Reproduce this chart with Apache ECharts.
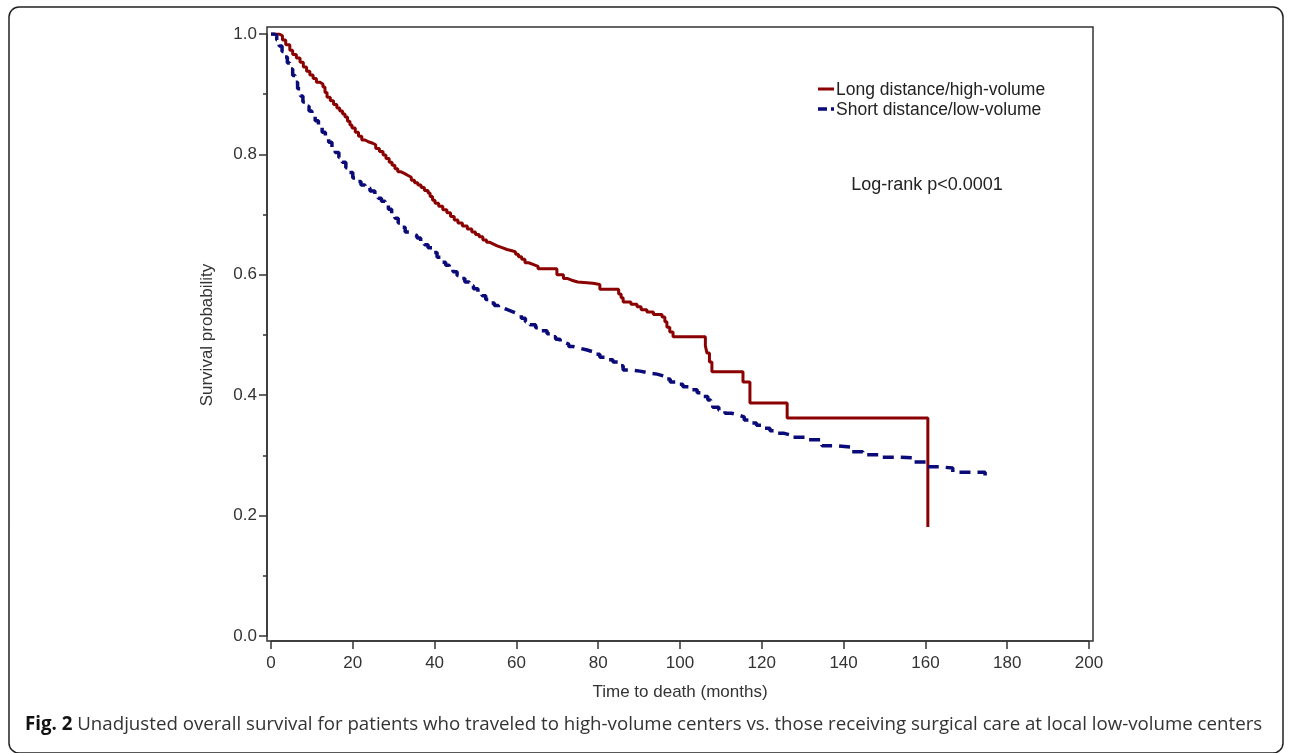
<!DOCTYPE html>
<html>
<head>
<meta charset="utf-8">
<script src="https://cdn.jsdelivr.net/npm/echarts@6/dist/echarts.min.js"></script>
<style>
html,body{margin:0;padding:0;background:#fff;}
#chart{width:1290px;height:753px;}
</style>
</head>
<body>
<div id="chart"></div>
<script>
// Series names
const seriesNames = ['Long distance/high-volume', 'Short distance/low-volume'];

// Long distance/high-volume: event times (months) and survival probability
const longTimes = [0, 2.0, 2.8, 3.6, 4.6, 5.3, 6.2, 7.1, 7.9, 8.7, 9.5, 10.3, 11.1, 11.9, 12.7, 13.2, 13.7, 14.5, 15.3, 16.1, 16.8, 17.5, 18.1, 18.7, 19.3, 19.8, 20.6, 21.4, 22.2, 23.0, 23.8, 24.7, 25.6, 26.5, 27.4, 28.1, 28.9, 29.6, 30.3, 31.0, 31.8, 32.7, 33.5, 34.3, 35.1, 35.9, 36.7, 37.5, 38.4, 38.9, 39.5, 40.1, 41.0, 42.0, 43.0, 43.9, 44.8, 45.7, 46.8, 48.0, 49.1, 50.0, 50.9, 51.8, 52.7, 53.5, 54.4, 55.3, 56.5, 57.7, 58.9, 59.8, 60.5, 61.3, 62.1, 63.0, 64.2, 65.3, 69.9, 71.5, 72.4, 73.5, 75.0, 78.7, 80.4, 85.0, 85.6, 86.1, 88.0, 89.5, 90.5, 91.9, 93.5, 95.6, 96.3, 96.8, 97.5, 98.3, 106.2, 106.6, 107.2, 107.8, 115.4, 117.1, 126.2, 160.6];
const longSurv = [1.0, 0.997, 0.990, 0.982, 0.973, 0.966, 0.960, 0.953, 0.945, 0.938, 0.932, 0.926, 0.920, 0.917, 0.912, 0.903, 0.895, 0.889, 0.883, 0.877, 0.872, 0.867, 0.862, 0.855, 0.849, 0.844, 0.837, 0.830, 0.824, 0.821, 0.819, 0.816, 0.810, 0.805, 0.799, 0.793, 0.787, 0.782, 0.776, 0.771, 0.768, 0.765, 0.762, 0.757, 0.753, 0.749, 0.745, 0.740, 0.736, 0.730, 0.724, 0.719, 0.714, 0.708, 0.703, 0.697, 0.691, 0.686, 0.681, 0.676, 0.671, 0.667, 0.663, 0.658, 0.654, 0.651, 0.648, 0.645, 0.642, 0.640, 0.638, 0.634, 0.630, 0.626, 0.620, 0.617, 0.614, 0.610, 0.600, 0.594, 0.591, 0.588, 0.586, 0.584, 0.576, 0.568, 0.562, 0.555, 0.551, 0.547, 0.542, 0.538, 0.534, 0.530, 0.522, 0.513, 0.505, 0.497, 0.482, 0.470, 0.455, 0.439, 0.422, 0.387, 0.362, 0.181];

// Short distance/low-volume
const shortTimes = [0, 0.8, 1.4, 2.0, 2.7, 3.4, 4.0, 4.6, 5.3, 5.9, 6.5, 7.2, 7.8, 8.5, 9.3, 10.0, 10.8, 11.6, 12.5, 13.3, 14.1, 14.9, 15.7, 16.6, 17.4, 18.3, 19.1, 20.0, 21.0, 22.0, 23.0, 24.2, 25.4, 26.2, 27.0, 27.9, 28.7, 29.5, 30.3, 31.1, 32.0, 32.8, 33.8, 34.7, 35.7, 36.6, 37.5, 38.4, 39.5, 40.6, 41.8, 42.7, 43.6, 44.5, 45.5, 46.4, 47.4, 48.5, 49.5, 50.6, 51.6, 52.5, 53.5, 54.6, 55.6, 56.7, 57.8, 59.0, 60.1, 61.2, 62.2, 63.3, 64.7, 66.0, 67.5, 68.5, 69.6, 70.7, 71.7, 72.8, 73.8, 75.5, 77.3, 78.8, 80.4, 82.0, 83.6, 84.8, 86.1, 88.0, 90.2, 92.3, 94.4, 96.0, 97.6, 99.2, 100.7, 102.5, 104.2, 105.5, 106.8, 107.5, 108.0, 109.5, 111.0, 112.6, 114.2, 115.7, 117.1, 118.7, 120.3, 122.0, 123.7, 125.3, 126.9, 131.0, 134.7, 138.4, 141.6, 144.7, 148.9, 153.8, 157.0, 160.4, 163.6, 166.7, 174.6];
const shortSurv = [1.0, 0.998, 0.990, 0.980, 0.971, 0.962, 0.952, 0.942, 0.931, 0.920, 0.909, 0.897, 0.887, 0.880, 0.872, 0.865, 0.856, 0.846, 0.837, 0.828, 0.820, 0.811, 0.803, 0.795, 0.787, 0.778, 0.770, 0.761, 0.755, 0.749, 0.744, 0.739, 0.733, 0.727, 0.722, 0.716, 0.709, 0.701, 0.694, 0.686, 0.679, 0.671, 0.668, 0.665, 0.661, 0.656, 0.650, 0.645, 0.637, 0.629, 0.621, 0.616, 0.610, 0.605, 0.599, 0.594, 0.588, 0.582, 0.577, 0.571, 0.565, 0.559, 0.553, 0.549, 0.545, 0.542, 0.539, 0.536, 0.533, 0.528, 0.522, 0.517, 0.512, 0.507, 0.502, 0.497, 0.493, 0.488, 0.485, 0.481, 0.478, 0.475, 0.472, 0.468, 0.463, 0.459, 0.455, 0.449, 0.442, 0.440, 0.437, 0.435, 0.432, 0.427, 0.422, 0.418, 0.414, 0.409, 0.404, 0.398, 0.392, 0.386, 0.380, 0.375, 0.370, 0.367, 0.364, 0.359, 0.354, 0.350, 0.345, 0.341, 0.337, 0.334, 0.330, 0.326, 0.316, 0.314, 0.306, 0.301, 0.297, 0.296, 0.289, 0.281, 0.279, 0.272, 0.264];

const xAxisTitle = 'Time to death (months)';
const yAxisTitle = 'Survival probability';
const annotation = 'Log-rank p<0.0001';
const captionBold = 'Fig. 2';
const captionText = ' Unadjusted overall survival for patients who traveled to high-volume centers vs. those receiving surgical care at local low-volume centers';

const zip = (t, s) => t.map((x, i) => [x, s[i]]);
const font = '"Liberation Sans", Arial, sans-serif';
const RED = '#8b0000';
const BLUE = '#0a0a78';

const chart = echarts.init(document.getElementById('chart'), null, {renderer: 'canvas'});
chart.setOption({
  animation: false,
  backgroundColor: '#fff',
  grid: {left: 271, right: 201, top: 34, bottom: 117, containLabel: false},
  xAxis: {
    type: 'value', min: 0, max: 200, interval: 20, offset: 5,
    name: xAxisTitle, nameLocation: 'middle', nameGap: 43,
    nameTextStyle: {fontFamily: font, fontSize: 17, color: '#333'},
    axisLine: {show: true, onZero: false, lineStyle: {color: '#333', width: 1.5}},
    axisTick: {show: true, length: 8, lineStyle: {color: '#333', width: 1.5}},
    axisLabel: {fontFamily: font, fontSize: 17, color: '#333', margin: 14},
    splitLine: {show: false}
  },
  yAxis: {
    type: 'value', min: 0, max: 1, interval: 0.2, offset: 4,
    name: yAxisTitle, nameLocation: 'middle', nameGap: 51, nameRotate: 90,
    nameTextStyle: {fontFamily: font, fontSize: 17, color: '#333'},
    axisLine: {show: true, onZero: false, lineStyle: {color: '#333', width: 1.5}},
    axisTick: {show: true, length: 8, lineStyle: {color: '#333', width: 1.5}},
    minorTick: {show: true, splitNumber: 2, length: 4, lineStyle: {color: '#333', width: 1.5}},
    axisLabel: {fontFamily: font, fontSize: 17, color: '#333', margin: 10,
      formatter: v => v.toFixed(1)},
    splitLine: {show: false}
  },
  series: [
    {
      name: seriesNames[0], type: 'line', step: 'end', showSymbol: false, symbol: 'none',
      data: zip(longTimes, longSurv),
      lineStyle: {color: RED, width: 3},
      itemStyle: {color: RED}, z: 2
    },
    {
      name: seriesNames[1], type: 'line', step: 'end', showSymbol: false, symbol: 'none',
      data: zip(shortTimes, shortSurv),
      lineStyle: {color: BLUE, width: 3.5, type: [11, 7]},
      itemStyle: {color: BLUE}, z: 3
    }
  ],
  graphic: [
    {type: 'rect', shape: {x: 9, y: 7, width: 1274, height: 746, r: 10}, silent: true,
      style: {fill: null, stroke: '#222', lineWidth: 1.5}, z: -1},
    {type: 'rect', shape: {x: 267, y: 27, width: 826, height: 614}, silent: true,
      style: {fill: null, stroke: '#333', lineWidth: 1.5}, z: 1},
    // legend
    {type: 'line', shape: {x1: 818, y1: 89, x2: 834, y2: 89}, silent: true,
      style: {stroke: RED, lineWidth: 3}},
    {type: 'line', shape: {x1: 818, y1: 109, x2: 834, y2: 109}, silent: true,
      style: {stroke: BLUE, lineWidth: 3.5, lineDash: [9, 4]}},
    {type: 'text', x: 836, y: 90, silent: true,
      style: {text: seriesNames[0], font: '17.5px ' + font, fill: '#222', textVerticalAlign: 'middle'}},
    {type: 'text', x: 836, y: 110, silent: true,
      style: {text: seriesNames[1], font: '17.5px ' + font, fill: '#222', textVerticalAlign: 'middle'}},
    {type: 'text', x: 927, y: 185, silent: true,
      style: {text: annotation, font: '18px ' + font, fill: '#222', textAlign: 'center', textVerticalAlign: 'middle'}},
    {type: 'text', x: 25, y: 725, silent: true,
      style: {
        text: '{b|' + captionBold + '}{n|' + captionText + '}',
        textVerticalAlign: 'middle',
        rich: {
          b: {fontFamily: '"Open Sans", sans-serif', fontWeight: 'bold', fontSize: 18.7, fill: '#111'},
          n: {fontFamily: '"Open Sans", sans-serif', fontSize: 18.7, fill: '#333'}
        }
      }}
  ]
});
</script>
</body>
</html>
